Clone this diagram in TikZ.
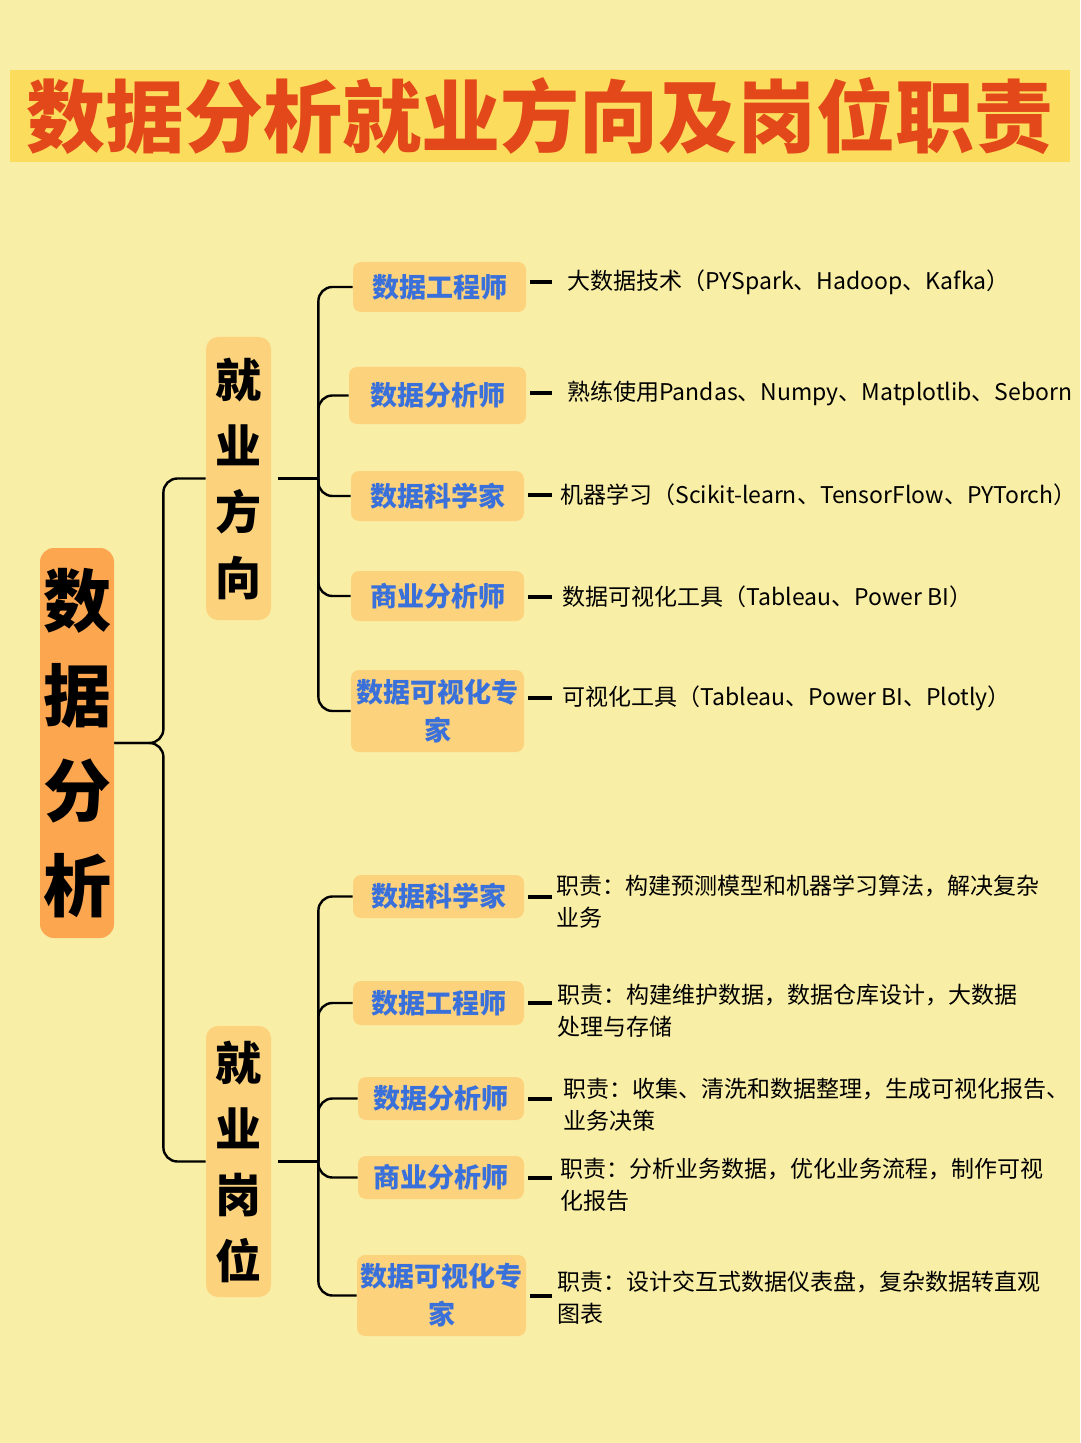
\documentclass[tikz,border=0pt]{standalone}
\usepackage{fontspec}
\setmainfont{Noto Sans CJK SC}

\definecolor{bgyellow}{RGB}{249,238,166}
\definecolor{bandyellow}{RGB}{252,220,92}
\definecolor{titlered}{RGB}{226,72,26}
\definecolor{rootorange}{RGB}{252,166,80}
\definecolor{boxorange}{RGB}{253,210,125}
\definecolor{leafblue}{RGB}{58,112,218}

\begin{document}
\begin{tikzpicture}[x=0.5pt,y=-0.5pt,
  rootbox/.style={fill=rootorange, rounded corners=7pt, minimum width=37pt, minimum height=195pt, inner sep=0pt, align=center, font=\fontsize{34}{47.5}\selectfont\bfseries},
  groupbox/.style={fill=boxorange, rounded corners=6pt, minimum width=32.5pt, inner sep=0pt, align=center, font=\fontsize{23}{33}\selectfont\bfseries},
  leafbox/.style={fill=boxorange, rounded corners=4pt, minimum width=86.5pt, minimum height=25pt, inner sep=0pt, align=center, text=leafblue, font=\fontsize{13.5}{19}\selectfont\bfseries},
  desc/.style={anchor=west, inner sep=0pt, align=left, font=\fontsize{11.5}{16}\selectfont},
  conn/.style={line width=1.2pt, rounded corners=7pt},
  stub/.style={line width=2pt, shorten <=2pt}]

% background and title
\useasboundingbox (0,0) rectangle (1080,1443);
\fill[bgyellow] (0,0) rectangle (1080,1443);
\node[fill=bandyellow, minimum width=530pt, minimum height=46pt, inner sep=0pt, text=titlered, font=\fontsize{39.5}{40}\selectfont\bfseries] (title) at (540,116) {数据分析就业方向及岗位职责};

% root and groups
\node[rootbox] (root) at (77,743) {数\\据\\分\\析};
\node[groupbox, minimum height=141.5pt] (fx) at (238.5,478.5) {就\\业\\方\\向};
\node[groupbox, minimum height=135.5pt] (gw) at (238.5,1161.5) {就\\业\\岗\\位};

% directions
\node[leafbox] (a1) at (439.5,287) {数据工程师};
\node[leafbox, minimum width=88.5pt, minimum height=28.5pt] (a2) at (437.5,395.5) {数据分析师};
\node[leafbox] (a3) at (437.5,496) {数据科学家};
\node[leafbox] (a4) at (437.5,596) {商业分析师};
\node[leafbox, minimum height=41pt] (a5) at (437.5,711) {数据可视化专\\家};

\node[desc] (d1) at (567,282) {大数据技术（PYSpark、Hadoop、Kafka）};
\node[desc] (d2) at (567,393) {熟练使用Pandas、Numpy、Matplotlib、Seborn};
\node[desc] (d3) at (560,495) {机器学习（Scikit-learn、TensorFlow、PYTorch）};
\node[desc] (d4) at (562,597) {数据可视化工具（Tableau、Power BI）};
\node[desc] (d5) at (562,698) {可视化工具（Tableau、Power BI、Plotly）};

% positions
\node[leafbox, minimum width=85.5pt, minimum height=21.5pt] (b1) at (438.5,896.5) {数据科学家};
\node[leafbox, minimum width=85.5pt, minimum height=22pt] (b2) at (438.5,1003) {数据工程师};
\node[leafbox, minimum width=83pt, minimum height=21.5pt] (b3) at (441,1098.5) {数据分析师};
\node[leafbox, minimum width=83pt, minimum height=21.5pt] (b4) at (441,1177.5) {商业分析师};
\node[leafbox, minimum width=84.5pt, minimum height=40.5pt] (b5) at (441.5,1295.5) {数据可视化专\\家};

\node[desc] (e1) at (556,902) {职责：构建预测模型和机器学习算法，解决复杂\\业务};
\node[desc] (e2) at (557,1011) {职责：构建维护数据，数据仓库设计，大数据\\处理与存储};
\node[desc] (e3) at (563,1105) {职责：收集、清洗和数据整理，生成可视化报告、\\业务决策};
\node[desc] (e4) at (560,1185) {职责：分析业务数据，优化业务流程，制作可视\\化报告};
\node[desc] (e5) at (557,1298) {职责：设计交互式数据仪表盘，复杂数据转直观\\图表};

% connectors
\draw[conn] (root.east) -- ++(49,0) |- (fx.west);
\draw[conn] (root.east) -- ++(49,0) |- (gw.west);

\coordinate (jfx) at ([xshift=23.5pt]fx.east);
\coordinate (jgw) at ([xshift=23.5pt]gw.east);
\draw[conn, shorten <=3.5pt] (fx.east) -- (jfx);
\draw[conn, shorten <=3.5pt] (gw.east) -- (jgw);
\foreach \l in {a1,a2,a3,a4,a5}
  \draw[conn] (jfx) |- (\l.west);
\foreach \l in {b1,b2,b3,b4,b5}
  \draw[conn] (jgw) |- (\l.west);

\foreach \l/\d/\s in {a1/d1/7.5pt, a2/d2/7.5pt, a3/d3/4pt, a4/d4/5pt, a5/d5/5pt}
  \draw[stub, shorten >=\s] (\d.west -| \l.east) -- (\d.west);
\foreach \l/\d/\s in {b1/e1/2pt, b2/e2/2.5pt, b3/e3/5.5pt, b4/e4/4pt, b5/e5/2.5pt}
  \draw[stub, shorten >=\s] (\l.east) -- (\l.east -| \d.west);

\end{tikzpicture}
\end{document}
